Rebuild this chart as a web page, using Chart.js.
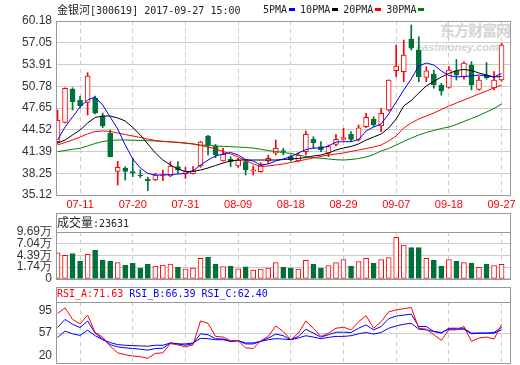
<!DOCTYPE html>
<html>
<head>
<meta charset="utf-8">
<title>金银河 300619</title>
<script src="https://cdn.jsdelivr.net/npm/chart.js"></script>
<style>
  body { margin: 0; background: #fff; }
  #wrap { position: relative; width: 520px; height: 365px; overflow: hidden; }
  #wrap canvas { position: absolute; left: 0; }
  .lbl { position: absolute; white-space: nowrap; font: 10px "DejaVu Sans Mono", monospace; line-height: 12px; color: #222; }
  .cjk { font-family: "Noto Sans CJK SC", sans-serif; font-size: 11px; }
  .cjk12 { font-family: "Noto Sans CJK SC", sans-serif; font-size: 12px; }
  .mark { display: inline-block; width: 6px; height: 3px; margin: 0 5px 1px 2px; vertical-align: middle; }
  #wm { position: absolute; left: 416px; top: 19px; color: #d4d4d4; line-height: 1; }
</style>
</head>
<body>
<div id="wrap">
  <div id="wm">
    <div style="font: bold 15px 'Noto Sans CJK SC'; margin-left: 24px; letter-spacing: -1px;">东方财富网</div>
    <div style="font: italic bold 11px 'Liberation Sans'; margin-top: 1px;">eastmoney.com</div>
  </div>
  <canvas id="kline" width="520" height="215" style="top:0"></canvas>
  <canvas id="vol" width="520" height="85" style="top:205px"></canvas>
  <canvas id="rsi" width="520" height="95" style="top:280px"></canvas>
  <div class="lbl" id="title" style="left:57px;top:3px"></div>
  <div class="lbl" id="maLegend" style="left:263px;top:4px"></div>
  <div class="lbl" id="volTitle" style="left:57px;top:216px"></div>
  <div class="lbl" id="rsiTitle" style="left:57px;top:288px"></div>
</div>

<script>
const stockName = "金银河";
const stockCode = "300619";
const quoteTime = "2017-09-27 15:00";

// trading days shown (60 sessions)
const dates = ["07-06","07-07","07-10","07-11","07-12","07-13","07-14","07-17","07-18","07-19",
  "07-20","07-21","07-24","07-25","07-26","07-27","07-28","07-31","08-01","08-02",
  "08-03","08-04","08-07","08-08","08-09","08-10","08-11","08-14","08-15","08-16",
  "08-17","08-18","08-21","08-22","08-23","08-24","08-25","08-28","08-29","08-30",
  "08-31","09-01","09-04","09-05","09-06","09-07","09-08","09-11","09-12","09-13",
  "09-14","09-15","09-18","09-19","09-20","09-21","09-22","09-25","09-26","09-27"];
const axisDates = ["07-11","07-20","07-31","08-09","08-18","08-29","09-07","09-18","09-27"];

const open = [42.80, 45.59, 50.39, 48.80, 48.47, 49.05, 46.50, 44.00, 38.53, 39.01,
  38.48, 37.99, 37.42, 37.28, 37.95, 37.86, 39.20, 38.14, 38.19, 39.30,
  43.62, 42.18, 40.02, 40.26, 39.30, 39.92, 38.55, 38.48, 40.02, 41.13,
  41.50, 40.64, 40.02, 41.36, 43.14, 42.08, 41.13, 42.42, 43.14, 43.86,
  43.14, 44.96, 46.02, 45.06, 47.36, 53.02, 52.88, 57.59, 56.00, 52.07,
  52.55, 50.96, 50.63, 52.98, 52.12, 53.84, 50.34, 52.40, 50.53, 51.68];
const high = [47.36, 50.55, 50.57, 49.38, 52.73, 49.38, 46.93, 44.48, 39.97, 39.20,
  40.41, 38.72, 37.68, 38.25, 38.72, 39.92, 39.92, 39.11, 39.20, 42.85,
  43.70, 42.42, 41.85, 40.64, 40.40, 40.20, 39.30, 39.77, 40.88, 43.04,
  41.85, 40.90, 41.20, 44.34, 43.52, 42.80, 42.32, 43.86, 44.72, 44.24,
  45.20, 46.89, 46.40, 47.61, 51.70, 56.72, 57.44, 59.60, 57.92, 53.60,
  53.12, 51.20, 53.60, 54.64, 54.30, 54.31, 52.16, 54.20, 52.88, 56.97];
const low = [42.60, 45.50, 47.36, 47.65, 46.64, 46.79, 44.81, 40.59, 36.56, 37.28,
  37.76, 37.62, 35.74, 37.18, 37.18, 37.76, 38.25, 37.51, 38.14, 39.10,
  40.88, 40.49, 40.00, 39.20, 39.10, 38.00, 38.00, 38.40, 39.68, 40.88,
  40.88, 40.00, 39.90, 40.88, 41.85, 41.36, 40.64, 42.20, 43.00, 42.80,
  42.90, 44.80, 45.00, 44.24, 47.20, 52.16, 51.44, 56.00, 51.44, 51.44,
  50.50, 49.50, 50.50, 51.68, 51.80, 50.25, 50.20, 51.80, 50.25, 51.50];
const close = [45.88, 50.49, 48.56, 47.98, 52.26, 46.89, 45.06, 40.64, 39.11, 38.53,
  38.26, 37.90, 37.18, 38.00, 38.05, 39.30, 38.72, 38.48, 38.62, 42.75,
  42.32, 40.88, 40.98, 39.92, 40.16, 38.72, 38.75, 39.44, 40.41, 41.85,
  41.40, 40.16, 40.88, 43.86, 42.66, 41.60, 42.08, 43.14, 43.38, 43.14,
  44.81, 46.31, 45.20, 46.89, 51.68, 53.70, 55.28, 56.25, 52.16, 53.02,
  50.96, 50.10, 53.12, 52.40, 54.12, 50.96, 51.68, 52.00, 51.68, 56.72];

const ma5 = [43.04, 44.91, 46.35, 47.80, 48.80, 49.24, 48.08, 46.35, 44.63, 42.32,
  40.31, 39.01, 38.22, 38.00, 38.00, 38.07, 38.14, 38.22, 38.58, 39.44,
  40.16, 40.74, 41.03, 41.24, 40.88, 40.23, 40.02, 39.44, 39.59, 40.02,
  40.31, 40.64, 41.17, 41.67, 41.89, 41.89, 42.18, 42.75, 42.80, 42.80,
  43.10, 44.34, 44.91, 45.35, 46.79, 48.52, 50.24, 51.83, 53.70, 54.13,
  53.84, 52.98, 52.33, 52.12, 52.19, 52.26, 52.40, 52.26, 52.12, 52.62];
const ma10 = [42.57, 43.04, 43.76, 44.48, 45.49, 46.28, 46.50, 46.50, 46.21, 45.78,
  44.84, 43.76, 42.47, 41.17, 40.16, 39.44, 38.86, 38.50, 38.50, 38.72,
  39.01, 39.37, 39.73, 40.02, 40.16, 40.16, 40.16, 40.16, 40.16, 40.16,
  40.23, 40.31, 40.38, 40.52, 40.74, 40.88, 41.17, 41.60, 41.89, 42.11,
  42.47, 43.04, 43.47, 43.91, 44.77, 46.07, 47.94, 48.73, 49.81, 50.82,
  51.47, 52.12, 52.62, 53.05, 53.20, 53.05, 52.69, 52.40, 52.12, 52.19];
const ma20 = [42.32, 42.68, 43.04, 43.47, 43.91, 44.27, 44.34, 44.27, 44.05, 43.83,
  43.62, 43.40, 43.19, 42.97, 42.83, 42.75, 42.68, 42.57, 42.47, 42.25,
  42.03, 41.75, 41.39, 41.03, 40.59, 40.09, 39.59, 39.23, 39.30, 39.44,
  39.59, 39.80, 40.02, 40.23, 40.45, 40.67, 40.88, 41.03, 41.17, 41.39,
  41.60, 41.82, 42.03, 42.32, 42.90, 43.62, 44.77, 45.49, 46.07, 46.50,
  46.93, 47.44, 47.94, 48.37, 48.80, 49.24, 49.67, 50.10, 50.53, 50.96];
const ma30 = [41.36, 41.53, 41.70, 41.85, 42.18, 42.54, 42.83, 42.97, 43.04, 43.04,
  43.01, 42.97, 42.94, 42.90, 42.85, 42.80, 42.71, 42.61, 42.47, 42.32,
  42.25, 42.18, 42.13, 42.08, 42.03, 41.96, 41.89, 41.70, 41.53, 41.39,
  41.24, 41.10, 40.88, 40.67, 40.52, 40.41, 40.31, 40.20, 40.16, 40.23,
  40.38, 40.59, 40.95, 41.46, 41.82, 42.32, 42.83, 43.33, 43.76, 44.12,
  44.41, 44.70, 44.91, 45.27, 45.71, 46.14, 46.57, 47.07, 47.58, 48.23];
const maNames = ["5PMA", "10PMA", "20PMA", "30PMA"];
const maColors = ["#0000ff", "#000000", "#ff0000", "#008000"];

// volume in 万 (10k)
const volume = [4.97, 4.39, 4.83, 3.06, 4.61, 5.56, 3.28, 3.06, 2.77, 2.18,
  2.62, 1.52, 2.40, 1.96, 2.18, 2.40, 1.74, 1.37, 1.52, 3.72,
  4.02, 2.40, 1.88, 1.96, 1.37, 1.81, 1.07, 1.29, 1.52, 2.77,
  1.66, 1.52, 1.29, 3.28, 2.40, 1.52, 2.10, 2.77, 3.43, 1.96,
  2.99, 3.72, 2.62, 3.43, 3.87, 8.51, 6.74, 6.15, 6.15, 3.72,
  3.28, 1.96, 3.43, 3.06, 2.77, 2.62, 1.66, 2.40, 2.10, 2.3631];

const rsiA = [89.6, 98.8, 79.8, 72.2, 86.9, 58.1, 50.5, 35.3, 24.4, 21.2,
  19.0, 17.9, 15.2, 23.3, 24.4, 39.6, 37.5, 34.2, 37.5, 77.1,
  73.3, 51.6, 50.5, 44.5, 44.5, 32.6, 31.5, 44.5, 51.6, 68.9,
  59.7, 46.1, 57.0, 77.1, 65.1, 51.6, 57.0, 65.1, 66.8, 62.4,
  76.0, 85.8, 65.1, 76.0, 92.3, 95.5, 97.5, 99.5, 65.1, 63.5,
  54.3, 45.1, 62.4, 62.4, 67.9, 43.4, 48.9, 50.5, 47.2, 71.63];
const rsiB = [66.2, 79.8, 71.7, 66.2, 77.1, 57.0, 47.2, 38.0, 34.2, 32.6,
  31.5, 30.4, 28.8, 31.5, 32.0, 40.7, 39.1, 36.9, 39.6, 55.9,
  54.3, 47.8, 47.2, 43.4, 44.5, 39.1, 39.1, 43.4, 48.9, 55.4,
  52.7, 46.1, 51.6, 63.5, 57.0, 50.5, 54.3, 58.6, 58.6, 58.1,
  65.1, 70.6, 62.4, 67.9, 80.9, 85.2, 86.9, 88.5, 67.9, 67.9,
  59.7, 57.0, 65.1, 65.1, 65.1, 57.0, 57.0, 57.0, 58.1, 66.39];
const rsiC = [49.9, 60.3, 55.9, 53.2, 61.9, 52.7, 46.1, 41.3, 38.0, 36.9,
  36.4, 35.8, 35.3, 36.9, 36.9, 40.7, 39.1, 39.1, 40.7, 48.3,
  47.8, 46.1, 46.1, 43.4, 44.5, 40.7, 40.7, 43.4, 46.1, 47.8,
  47.2, 46.1, 48.9, 52.7, 50.5, 47.8, 49.9, 51.6, 51.6, 52.7,
  55.9, 58.1, 55.4, 58.1, 65.1, 68.9, 71.7, 73.3, 63.5, 62.4,
  59.7, 58.1, 63.5, 63.5, 63.5, 55.9, 57.0, 57.0, 57.0, 62.40];

const priceTicks = [35.12, 38.25, 41.39, 44.52, 47.65, 50.78, 53.91, 57.05, 60.18];
const volTicks = [-0.91, 1.74, 4.39, 7.04, 9.69]; // lowest one is printed as 0
const rsiTicks = [20, 57, 95];

const RED = "#ff0000";
const GREEN = "#00703c";
const GRID = "#cccccc";
const FRAME = "#999999";
const TICK_FONT = { family: "Liberation Sans", size: 12 };

let up = close.map((c, i) => c >= open[i]);
let dateIdx = axisDates.map(d => dates.indexOf(d));

// header texts
document.getElementById("title").innerHTML =
  '<span class="cjk">' + stockName + "</span>[" + stockCode + "] " + quoteTime;
let legend = document.getElementById("maLegend");
maNames.forEach((name, k) => {
  legend.insertAdjacentHTML("beforeend", name + '<span class="mark" style="background:' + maColors[k] + '"></span>');
});
document.getElementById("volTitle").innerHTML =
  '<span class="cjk12">成交量</span>:' + Math.round(volume[volume.length - 1] * 10000);
document.getElementById("rsiTitle").innerHTML =
  '<span style="color:#ff0000">RSI_A:' + rsiA[rsiA.length - 1].toFixed(2) + '</span> ' +
  '<span style="color:#0000ff">RSI_B:' + rsiB[rsiB.length - 1].toFixed(2) + '</span> ' +
  '<span style="color:#0000ff">RSI_C:' + rsiC[rsiC.length - 1].toFixed(2) + '</span>';

// frame round the plot, with an optional label row on top
const framePlugin = {
  id: "frame",
  afterDraw(chart, args, opts) {
    let ctx = chart.ctx;
    let a = chart.chartArea;
    let l = Math.round(a.left) + 0.5, r = Math.round(a.right) + 0.5;
    let t = Math.round(a.top) + 0.5, b = Math.round(a.bottom) + 0.5;
    let top = opts.header ? Math.round(a.top - opts.header) + 0.5 : t;
    ctx.save();
    ctx.strokeStyle = FRAME;
    ctx.lineWidth = 1;
    ctx.strokeRect(l, top, r - l, b - top);
    if (opts.header) {
      ctx.beginPath();
      ctx.moveTo(l, t);
      ctx.lineTo(r, t);
      ctx.stroke();
    }
    ctx.restore();
  }
};

function xAxis(showLabels) {
  return {
    type: "linear",
    min: -0.2,
    max: 60.12,
    offset: false,
    afterBuildTicks: s => { s.ticks = dateIdx.map(v => ({ value: v })); },
    afterFit: s => { s.height = showLabels ? 20 : 0; },
    grid: { color: GRID, drawTicks: false, offset: false },
    border: { display: false, dash: [4, 4] },
    ticks: {
      display: showLabels, autoSkip: false, maxRotation: 0, padding: 3, color: RED,
      font: { family: "Liberation Sans", size: 11 },
      callback: v => dates[v]
    }
  };
}

function yAxis(min, max, ticks, label, gridColor) {
  return {
    min: min,
    max: max,
    afterBuildTicks: s => { s.ticks = ticks.map(v => ({ value: v })); },
    afterFit: s => { s.width = 56; },
    grid: { color: gridColor || GRID, drawTicks: false },
    border: { display: false },
    ticks: { color: "#333", padding: 4, autoSkip: false, font: TICK_FONT, callback: label }
  };
}

function points(arr) {
  return arr.map((v, i) => ({ x: i, y: v }));
}

function lineSet(arr, color) {
  return { type: "line", data: points(arr), borderColor: color, borderWidth: 1, pointRadius: 0, order: 0 };
}

// K-line
new Chart(document.getElementById("kline"), {
  type: "bar",
  data: {
    datasets: [
      lineSet(ma5, maColors[0]),
      lineSet(ma10, maColors[1]),
      lineSet(ma20, maColors[2]),
      lineSet(ma30, maColors[3]),
      {
        data: dates.map((d, i) => ({ x: i, y: [open[i], close[i]] })),
        backgroundColor: up.map(u => u ? "#ffffff" : GREEN),
        borderColor: up.map(u => u ? RED : GREEN),
        borderWidth: 1, borderSkipped: false, barThickness: 5, grouped: false, order: 1
      },
      {
        data: dates.map((d, i) => ({ x: i, y: [low[i], high[i]] })),
        backgroundColor: up.map(u => u ? RED : GREEN),
        barThickness: 1, grouped: false, order: 2
      }
    ]
  },
  options: {
    responsive: false,
    animation: false,
    layout: { padding: { top: 21, right: 10, left: 0, bottom: 0 } },
    plugins: { legend: { display: false }, tooltip: { enabled: false }, frame: { header: 0 } },
    scales: {
      x: xAxis(true),
      y: yAxis(35.12, 60.18, priceTicks, v => v.toFixed(2))
    }
  },
  plugins: [framePlugin]
});

// volume
new Chart(document.getElementById("vol"), {
  type: "bar",
  data: {
    datasets: [{
      data: points(volume),
      base: volTicks[0],
      backgroundColor: up.map(u => u ? "#ffffff" : GREEN),
      borderColor: up.map(u => u ? RED : GREEN),
      borderWidth: 1, borderSkipped: false, barThickness: 5, grouped: false
    }]
  },
  options: {
    responsive: false,
    animation: false,
    layout: { padding: { top: 27, right: 10, left: 0, bottom: 10 } },
    plugins: { legend: { display: false }, tooltip: { enabled: false }, frame: { header: 19 } },
    scales: {
      x: xAxis(false),
      y: yAxis(volTicks[0], volTicks[volTicks.length - 1], volTicks, v => v < 0 ? "0" : v.toFixed(2) + "万")
    }
  },
  plugins: [framePlugin]
});

// RSI
new Chart(document.getElementById("rsi"), {
  type: "line",
  data: {
    datasets: [
      lineSet(rsiA, RED),
      lineSet(rsiB, "#0000ff"),
      lineSet(rsiC, "#0000ff")
    ]
  },
  options: {
    responsive: false,
    animation: false,
    layout: { padding: { top: 22, right: 10, left: 0, bottom: 12 } },
    plugins: { legend: { display: false }, tooltip: { enabled: false }, frame: { header: 15 } },
    scales: {
      x: xAxis(false),
      y: yAxis(7.5, 108.6, rsiTicks, v => String(v), c => (c.tick && c.tick.value === 57 ? GRID : "rgba(0,0,0,0)"))
    }
  },
  plugins: [framePlugin]
});
</script>
</body>
</html>
